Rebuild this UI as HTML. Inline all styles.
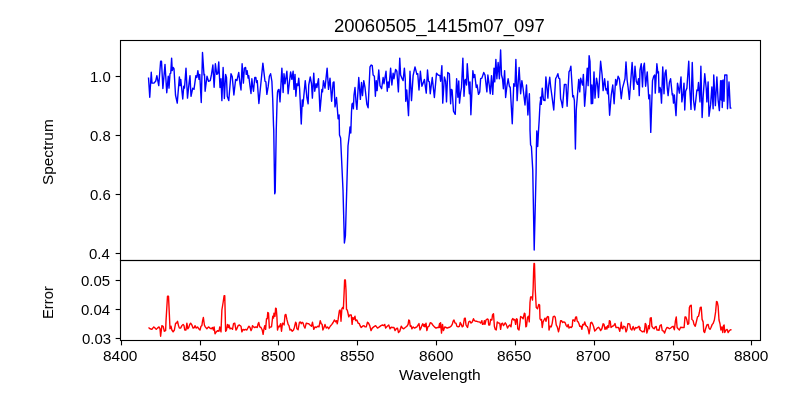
<!DOCTYPE html>
<html><head><meta charset="utf-8"><title>20060505_1415m07_097</title>
<style>
html,body{margin:0;padding:0;background:#fff;}
body{width:800px;height:400px;overflow:hidden;position:relative;font-family:"Liberation Sans",sans-serif;color:#000;}
svg{position:absolute;left:0;top:0;}
.t{position:absolute;white-space:nowrap;line-height:1;transform-origin:0 0;will-change:transform;}
</style></head><body>
<svg width="800" height="400" viewBox="0 0 800 400">
<rect width="800" height="400" fill="#fff"/>
<g fill="none" stroke-linejoin="round" stroke-linecap="butt">
<path d="M148.50 77.50 L149.75 97.25 L151.25 72.25 L152.00 83.12 L154.00 83.12 L155.75 81.00 L156.88 75.62 L158.75 85.62 L160.62 61.25 L161.50 61.25 L162.88 88.50 L165.00 64.38 L166.75 92.75 L168.25 76.25 L169.00 88.12 L170.00 73.75 L170.75 73.12 L171.62 58.12 L172.25 70.62 L173.12 67.50 L174.00 68.75 L175.50 95.00 L177.25 103.12 L179.38 76.88 L180.00 85.62 L180.75 79.38 L182.75 99.00 L183.75 86.25 L184.50 88.12 L186.00 68.12 L187.50 98.12 L189.00 83.75 L190.00 75.62 L191.00 96.25 L192.75 88.12 L194.00 89.38 L195.88 75.62 L196.88 77.50 L197.88 70.62 L199.00 79.38 L199.75 74.38 L201.25 102.50 L202.50 52.50 L204.00 75.00 L204.50 74.38 L205.12 91.25 L207.00 76.25 L208.50 81.25 L210.25 80.62 L211.50 74.38 L212.88 65.00 L214.12 87.25 L215.38 63.75 L216.75 74.38 L217.75 73.75 L218.75 61.88 L220.00 87.50 L221.00 78.75 L221.88 100.62 L223.12 67.50 L224.38 98.50 L225.62 74.38 L226.50 77.50 L227.25 96.25 L228.75 100.62 L231.00 73.75 L232.25 76.88 L233.88 95.00 L235.62 79.38 L236.88 80.62 L238.75 72.50 L240.00 83.75 L241.00 90.00 L242.12 63.75 L243.38 83.12 L244.38 68.12 L245.62 67.50 L246.25 74.38 L247.12 70.62 L248.12 78.12 L248.75 75.62 L250.00 86.25 L251.00 93.50 L251.88 78.75 L252.50 85.00 L253.50 91.25 L254.75 77.50 L255.88 77.50 L256.50 82.50 L257.25 80.62 L258.88 103.50 L262.88 63.12 L265.00 81.25 L265.88 81.88 L266.88 94.38 L268.12 86.88 L269.38 76.25 L270.62 73.75 L271.88 81.25 L272.75 100.00 L273.50 125.00 L273.75 130.00 L274.70 193.75 L275.20 192.00 L276.25 130.00 L277.12 100.00 L277.50 92.50 L278.12 90.00 L279.00 89.38 L280.00 101.88 L281.88 68.12 L283.12 92.50 L284.00 73.75 L285.00 83.75 L286.00 77.50 L286.88 71.25 L288.12 93.75 L289.38 82.50 L290.62 71.88 L291.88 79.38 L293.12 71.25 L294.00 89.38 L295.00 74.38 L295.88 96.25 L296.88 83.75 L297.88 85.62 L298.75 78.12 L299.62 88.75 L301.25 124.00 L302.25 100.00 L302.88 106.25 L305.25 80.62 L306.88 97.50 L308.12 103.75 L308.75 85.00 L310.25 76.88 L311.50 83.75 L312.38 98.12 L313.75 73.12 L314.75 91.25 L316.00 83.75 L316.88 87.50 L318.50 78.75 L320.00 111.25 L321.88 89.38 L322.50 91.88 L323.50 80.62 L325.00 88.12 L327.12 68.12 L328.50 89.38 L330.00 78.12 L331.62 101.25 L333.12 82.50 L334.00 81.88 L335.00 106.88 L336.50 97.50 L338.12 118.75 L339.12 115.00 L339.50 135.00 L340.60 138.00 L343.00 190.00 L344.40 243.00 L345.40 236.00 L347.00 180.00 L348.00 146.00 L349.40 134.00 L350.00 127.00 L350.80 133.00 L351.50 112.00 L352.00 104.00 L353.00 103.00 L353.40 108.75 L354.00 95.00 L355.00 87.50 L356.00 102.00 L356.90 109.40 L358.75 77.50 L360.38 99.38 L361.50 82.50 L362.50 95.62 L363.75 80.62 L365.00 87.50 L366.88 104.38 L368.12 107.75 L370.00 66.88 L371.25 65.00 L372.25 65.62 L373.12 75.00 L374.38 76.25 L375.38 96.25 L376.25 80.62 L377.12 90.62 L378.75 70.00 L380.00 85.62 L381.62 88.75 L383.12 77.50 L384.00 83.75 L386.00 71.25 L387.25 91.25 L388.12 81.88 L389.00 87.50 L390.62 68.12 L391.88 85.00 L393.12 73.12 L394.00 78.75 L395.62 69.38 L396.88 71.25 L398.38 91.88 L399.75 58.12 L400.62 75.00 L402.12 78.75 L403.12 80.62 L404.38 68.12 L405.25 78.75 L405.75 101.25 L406.75 90.00 L408.50 115.62 L410.00 71.25 L411.50 100.62 L413.12 75.62 L415.00 66.88 L416.88 74.38 L417.75 73.75 L419.00 90.00 L420.38 71.25 L421.88 86.25 L423.12 83.12 L424.38 79.38 L426.25 93.12 L427.50 70.00 L428.50 81.25 L429.38 81.88 L430.25 93.75 L432.25 77.50 L434.38 97.50 L436.50 73.12 L438.12 75.00 L440.00 75.62 L440.62 81.25 L441.88 65.62 L442.75 103.12 L444.38 76.88 L445.62 81.25 L446.50 101.88 L447.75 72.50 L449.38 73.75 L450.62 103.75 L451.25 89.38 L452.12 90.00 L453.50 111.25 L455.25 114.38 L456.62 78.75 L457.88 97.25 L458.75 81.00 L459.50 103.12 L460.62 92.50 L461.50 87.50 L462.88 58.12 L464.00 96.25 L465.00 80.00 L465.75 79.38 L466.50 85.00 L467.25 63.75 L468.50 81.25 L469.38 93.75 L470.00 81.88 L470.88 114.75 L472.88 70.62 L473.75 77.50 L474.75 74.38 L476.25 87.50 L477.12 85.00 L478.50 94.38 L479.75 91.88 L480.62 78.75 L481.88 78.12 L483.75 72.50 L485.00 75.00 L486.88 91.88 L487.88 75.00 L489.38 86.25 L490.25 93.75 L491.50 75.62 L492.75 94.38 L494.00 68.12 L494.75 81.88 L495.88 59.38 L496.88 78.75 L498.12 62.50 L499.38 78.75 L500.62 50.00 L501.50 75.00 L502.50 78.75 L503.38 88.75 L504.62 70.62 L505.62 97.50 L506.88 86.25 L508.12 78.75 L509.38 86.25 L510.25 87.50 L512.25 123.75 L513.75 83.75 L515.00 86.25 L515.88 59.38 L517.12 100.62 L519.12 67.50 L520.62 93.75 L521.88 80.62 L523.12 88.75 L525.00 105.00 L526.50 85.00 L527.88 115.00 L529.38 93.75 L530.00 120.00 L530.00 130.00 L530.60 145.00 L531.40 146.50 L532.75 170.00 L534.20 250.00 L536.10 172.00 L536.40 147.00 L536.80 131.00 L537.70 146.50 L538.50 131.00 L539.20 120.00 L540.00 104.00 L541.00 97.00 L540.38 97.50 L541.25 104.38 L542.25 88.12 L543.50 100.00 L545.00 100.62 L545.88 76.88 L546.88 86.88 L547.88 98.12 L548.75 85.00 L549.75 77.25 L550.62 86.25 L551.88 95.62 L553.75 110.00 L555.62 78.75 L556.88 76.25 L557.88 73.75 L558.75 78.12 L559.75 78.75 L560.62 98.75 L561.50 101.88 L562.50 107.50 L564.38 84.38 L566.00 84.38 L567.12 106.25 L569.00 71.88 L570.00 70.00 L570.88 66.25 L572.75 96.88 L573.50 95.62 L574.38 100.62 L575.40 149.00 L576.25 110.00 L578.75 79.38 L579.75 91.88 L580.62 78.12 L581.62 81.88 L582.50 85.00 L583.38 74.38 L584.62 106.25 L585.62 93.75 L587.25 68.12 L588.12 85.62 L589.12 55.62 L590.00 61.25 L590.62 86.25 L591.25 103.75 L591.88 85.00 L592.62 103.50 L593.38 87.50 L594.00 71.88 L595.00 98.12 L596.50 78.12 L597.50 83.75 L598.50 97.50 L599.38 81.88 L600.62 61.25 L602.12 75.00 L603.12 90.62 L604.62 78.75 L605.88 90.00 L606.88 88.75 L607.50 93.75 L607.88 81.25 L609.62 115.25 L611.25 95.00 L612.75 85.00 L614.12 103.75 L615.62 79.38 L616.50 85.00 L618.12 76.25 L619.38 78.75 L621.25 98.75 L622.50 88.12 L623.50 84.38 L625.00 78.75 L626.00 61.88 L627.12 80.00 L628.12 87.50 L629.38 99.38 L632.12 62.50 L633.75 89.38 L635.00 66.25 L636.25 81.25 L637.50 84.38 L638.50 78.75 L639.25 95.62 L640.00 70.00 L641.25 63.75 L642.50 86.88 L643.38 67.50 L644.38 63.12 L645.62 86.25 L647.25 71.88 L648.75 98.75 L649.75 95.00 L650.75 132.38 L652.50 80.62 L653.75 76.25 L654.75 75.00 L655.25 93.12 L656.88 63.75 L657.88 73.12 L658.50 71.88 L659.00 92.50 L660.00 87.50 L660.62 89.38 L661.50 103.12 L662.75 66.88 L664.00 93.75 L665.00 73.12 L666.00 70.00 L667.25 88.12 L668.12 95.62 L669.38 82.50 L670.62 78.75 L672.25 95.00 L672.75 93.75 L673.50 103.12 L674.38 95.00 L676.00 115.62 L677.50 83.12 L679.38 93.12 L681.00 76.88 L681.88 101.88 L683.12 93.75 L684.00 83.12 L684.75 110.00 L685.62 91.25 L686.88 88.12 L688.75 61.25 L689.75 88.75 L691.00 109.38 L692.25 62.50 L693.50 100.00 L694.75 110.00 L696.88 90.00 L697.75 90.62 L698.50 82.50 L700.00 101.88 L700.88 66.25 L702.12 117.50 L703.12 97.50 L704.75 73.75 L706.25 88.75 L706.88 101.88 L708.12 81.88 L709.00 116.25 L710.62 104.38 L711.88 86.88 L713.12 108.75 L713.75 75.00 L715.38 105.62 L716.88 76.88 L718.12 100.00 L719.38 110.62 L720.62 80.62 L721.25 100.00 L721.88 80.62 L722.25 107.50 L723.12 80.00 L724.00 101.25 L724.75 75.00 L726.88 75.00 L727.50 108.75 L729.00 81.88 L730.25 108.12 L731.50 108.12" stroke="#0000ff" stroke-width="1.4"/>
<path d="M148.50 327.50 L150.00 328.75 L151.88 329.38 L153.75 326.88 L155.00 328.12 L156.25 329.38 L157.50 328.12 L159.00 326.88 L160.00 328.75 L160.62 336.25 L161.88 325.62 L163.12 326.25 L164.38 331.25 L165.62 330.62 L166.00 321.25 L167.50 296.25 L168.50 296.25 L169.38 315.00 L170.00 328.75 L171.00 326.25 L171.88 330.00 L173.12 331.88 L174.38 330.00 L175.62 323.12 L176.50 323.12 L177.50 321.25 L178.50 325.62 L179.38 328.12 L180.62 328.12 L181.88 325.62 L183.12 324.38 L184.00 325.62 L184.75 330.00 L186.00 330.00 L186.88 323.12 L187.75 328.75 L188.75 327.50 L189.75 324.38 L190.62 323.12 L191.88 325.00 L193.12 328.12 L194.38 327.50 L195.00 325.62 L196.25 328.12 L197.50 326.88 L198.75 328.75 L200.00 330.00 L201.00 326.25 L201.88 325.62 L202.50 321.25 L203.38 317.50 L204.38 325.00 L205.25 326.88 L206.88 328.75 L208.50 326.88 L210.00 328.12 L211.25 328.75 L212.50 327.50 L213.38 330.00 L214.12 326.88 L215.00 333.75 L216.25 331.88 L217.75 330.62 L219.00 331.25 L219.75 326.88 L221.00 331.88 L221.88 310.00 L223.12 302.50 L224.12 295.62 L224.75 295.62 L225.62 331.25 L226.50 330.00 L227.50 324.38 L228.38 327.50 L229.00 325.00 L230.00 328.75 L231.25 328.12 L232.50 329.38 L233.50 323.75 L234.75 323.12 L236.00 330.00 L236.88 328.75 L238.12 325.62 L239.38 325.00 L240.00 325.62 L241.00 326.25 L241.88 331.88 L243.12 329.38 L244.38 330.00 L245.62 329.38 L246.88 330.00 L248.12 327.50 L249.00 326.25 L250.00 327.50 L251.00 330.62 L251.88 328.75 L252.50 325.62 L253.50 326.88 L254.75 327.50 L256.00 326.88 L257.25 327.50 L258.12 323.75 L258.75 322.50 L259.75 326.88 L261.00 327.50 L262.25 330.00 L263.12 334.38 L264.00 328.75 L264.75 325.62 L265.62 329.38 L266.50 318.75 L267.25 318.75 L267.75 312.50 L268.50 313.12 L269.38 328.12 L270.62 326.88 L271.50 326.88 L272.75 316.25 L273.50 318.12 L274.00 313.12 L275.00 316.25 L275.62 308.12 L276.25 308.50 L276.88 316.25 L277.50 330.00 L278.50 326.25 L279.38 326.88 L280.62 323.75 L281.50 331.25 L282.50 323.12 L283.50 323.75 L284.12 325.00 L285.00 315.00 L285.88 314.38 L286.88 319.38 L288.12 324.38 L289.00 325.62 L290.00 330.00 L291.00 329.38 L292.25 331.25 L293.50 330.00 L294.38 327.50 L295.62 322.25 L296.25 323.12 L296.88 328.75 L298.12 329.75 L299.38 322.50 L300.25 321.88 L301.25 323.75 L302.12 322.25 L303.12 323.12 L304.00 326.25 L305.00 328.12 L306.25 323.12 L307.50 323.50 L308.75 323.75 L310.00 325.00 L311.50 326.25 L312.50 322.25 L313.75 329.38 L315.00 326.88 L316.25 327.50 L317.75 326.25 L319.00 326.88 L320.25 320.62 L321.25 323.75 L322.12 324.38 L322.88 330.00 L324.00 327.50 L325.00 324.38 L326.25 328.12 L327.50 326.88 L328.75 328.75 L330.25 326.25 L331.88 324.38 L333.12 322.50 L334.38 320.00 L335.62 321.88 L336.50 320.62 L337.25 323.75 L338.12 319.38 L339.38 310.62 L340.00 310.00 L340.38 311.25 L341.00 321.25 L341.88 308.75 L342.75 307.50 L343.38 308.75 L344.12 292.50 L344.62 280.00 L345.38 280.00 L346.00 290.00 L346.50 309.38 L347.25 310.00 L348.12 313.75 L348.75 316.88 L349.75 315.00 L351.25 315.00 L352.12 324.38 L352.88 317.50 L353.75 319.38 L355.00 316.25 L355.62 320.62 L356.88 320.00 L358.12 323.12 L359.38 323.75 L360.00 325.62 L361.25 327.50 L362.50 326.25 L364.00 325.62 L365.00 326.88 L366.25 326.88 L367.50 322.25 L368.50 323.12 L369.75 325.62 L371.00 330.62 L372.25 328.12 L373.75 326.88 L375.62 325.62 L377.50 328.12 L379.38 326.88 L381.00 325.62 L382.50 325.00 L383.75 325.62 L384.75 324.38 L385.62 328.12 L387.25 326.25 L388.75 325.00 L390.00 328.75 L391.25 327.25 L392.50 327.50 L394.00 327.50 L395.00 330.62 L396.25 328.75 L397.50 328.12 L398.50 332.50 L399.75 331.25 L401.25 326.25 L402.50 328.12 L403.75 328.75 L405.25 327.50 L406.88 326.25 L408.12 324.38 L408.75 320.00 L409.50 320.62 L410.25 326.25 L411.00 325.62 L411.88 328.75 L413.12 326.88 L414.38 328.12 L415.62 327.50 L416.88 326.88 L418.12 325.00 L419.00 323.50 L420.00 330.00 L421.00 328.12 L421.88 325.62 L422.75 323.75 L423.75 326.25 L424.38 324.38 L425.00 326.88 L426.00 323.12 L426.88 330.62 L427.88 326.88 L429.00 326.25 L430.25 322.75 L431.50 323.12 L432.75 325.00 L434.38 326.88 L436.00 328.12 L437.50 327.50 L438.75 327.50 L439.62 323.50 L440.00 327.50 L440.62 322.75 L441.50 333.12 L442.50 324.38 L443.50 330.62 L444.75 326.88 L446.00 327.50 L447.25 328.12 L448.50 327.50 L449.75 327.25 L451.00 326.25 L452.25 324.38 L453.12 321.25 L454.00 320.00 L455.00 323.12 L456.00 323.12 L456.88 326.25 L458.12 326.88 L459.38 326.25 L460.25 322.50 L461.25 324.38 L462.25 326.88 L463.12 326.25 L464.38 318.50 L465.25 318.12 L466.00 325.00 L467.50 327.50 L468.75 321.88 L470.00 321.25 L471.00 323.12 L472.25 321.88 L473.50 318.75 L474.38 320.62 L475.62 321.25 L476.88 321.25 L478.12 321.88 L479.38 321.88 L480.62 323.12 L481.88 320.62 L482.50 324.38 L483.75 323.75 L484.38 320.62 L485.00 324.38 L486.00 320.00 L487.25 319.00 L488.12 319.38 L488.75 325.00 L489.75 325.00 L490.62 319.38 L491.88 320.00 L492.50 315.00 L493.50 313.75 L494.38 326.25 L495.25 329.38 L496.25 330.00 L497.25 321.88 L498.50 323.12 L499.75 323.12 L500.62 329.38 L501.50 323.75 L502.50 323.12 L503.50 325.62 L504.38 324.38 L505.25 322.75 L506.25 324.38 L507.50 328.12 L508.50 326.25 L509.75 325.00 L511.00 326.88 L511.88 320.00 L512.75 318.50 L513.75 320.00 L514.75 319.38 L515.62 324.38 L516.50 318.75 L517.25 319.38 L517.75 328.75 L519.00 330.00 L520.00 322.50 L520.62 316.50 L521.88 317.25 L523.12 318.75 L524.38 313.12 L525.00 313.75 L525.88 326.88 L526.50 326.25 L527.50 317.50 L528.50 316.25 L529.25 321.88 L530.00 302.50 L530.62 296.88 L531.88 296.88 L532.50 300.00 L533.12 288.75 L533.62 271.25 L534.00 263.50 L534.50 263.75 L534.88 277.50 L535.25 290.00 L536.25 307.50 L537.50 308.75 L538.75 304.38 L539.62 305.00 L540.00 318.75 L540.62 320.00 L541.50 319.38 L542.25 327.50 L543.12 321.88 L544.00 320.00 L545.00 318.12 L546.00 321.25 L546.88 317.50 L547.75 316.50 L548.50 316.88 L549.00 330.00 L550.00 326.25 L551.25 326.88 L552.25 323.12 L553.12 316.88 L554.38 316.25 L555.25 317.25 L556.25 325.00 L557.25 326.88 L558.50 331.88 L559.75 326.25 L560.62 320.62 L561.50 320.62 L562.50 322.50 L563.75 321.88 L565.00 322.50 L566.25 325.62 L567.25 326.88 L568.12 324.38 L569.00 328.12 L570.00 326.88 L571.25 327.50 L572.25 326.25 L572.75 320.00 L573.75 320.00 L574.75 321.25 L575.62 317.25 L576.50 316.88 L577.25 321.25 L578.12 321.88 L579.00 323.75 L579.75 326.25 L581.00 326.25 L581.88 329.38 L582.75 324.38 L583.75 325.00 L584.75 321.88 L585.62 325.00 L586.50 326.25 L587.50 326.88 L588.50 330.62 L589.12 333.75 L590.00 328.75 L590.62 322.75 L591.50 322.25 L592.50 323.75 L593.50 326.25 L594.75 331.00 L596.00 329.75 L597.25 328.12 L598.50 327.25 L599.75 328.75 L600.62 330.62 L601.88 328.75 L603.12 323.75 L604.00 324.38 L605.00 329.38 L606.25 326.88 L606.88 329.00 L607.75 325.62 L608.75 327.50 L609.38 320.62 L610.25 321.25 L611.00 327.50 L612.50 326.25 L613.75 325.62 L615.00 323.50 L616.00 327.50 L617.25 327.50 L618.50 327.50 L619.75 331.25 L620.62 326.88 L621.25 322.25 L621.88 328.12 L622.75 328.75 L623.50 326.25 L625.00 326.88 L626.00 331.88 L626.88 330.00 L627.88 323.75 L629.00 323.75 L629.75 324.38 L630.62 328.75 L631.88 330.00 L633.12 326.50 L634.38 330.00 L635.62 327.50 L636.88 328.12 L638.12 326.88 L639.00 326.25 L639.62 329.38 L640.00 327.50 L640.00 330.00 L641.00 330.62 L642.25 331.88 L643.50 331.25 L644.38 331.88 L645.25 323.50 L646.00 324.38 L646.88 333.12 L647.75 330.00 L648.50 325.62 L649.38 328.75 L650.25 318.12 L651.25 317.75 L651.88 326.25 L653.12 328.12 L654.38 328.75 L655.25 326.88 L656.25 326.50 L656.88 330.00 L658.12 330.00 L659.00 330.25 L660.00 325.62 L661.25 324.75 L662.25 330.62 L663.50 331.00 L664.62 333.12 L665.62 330.00 L666.88 327.50 L668.12 327.75 L669.38 328.75 L670.62 328.12 L671.88 326.88 L673.12 326.25 L674.38 329.75 L675.38 321.25 L676.25 316.88 L677.12 327.50 L678.12 328.75 L679.38 330.00 L680.62 327.25 L681.88 327.50 L683.12 327.50 L684.12 327.50 L685.00 316.88 L685.88 316.88 L686.88 320.00 L687.75 324.38 L688.75 323.75 L689.38 307.50 L690.25 305.62 L691.25 305.25 L691.88 319.38 L693.12 320.62 L694.00 324.38 L695.25 326.25 L696.50 321.25 L697.50 316.88 L698.50 316.25 L699.38 312.50 L700.25 307.50 L701.25 307.25 L702.12 319.38 L703.12 321.88 L703.75 331.25 L704.62 332.50 L705.62 328.75 L706.88 325.00 L708.12 324.38 L709.00 328.12 L710.00 329.38 L711.00 327.50 L712.25 324.38 L713.12 323.50 L714.38 320.00 L715.62 311.88 L716.50 301.50 L717.25 301.88 L718.12 306.25 L719.00 320.00 L720.00 323.75 L720.88 330.00 L721.88 326.88 L722.75 332.50 L723.50 325.62 L724.12 325.00 L724.75 332.50 L726.00 330.00 L727.12 329.38 L728.12 332.50 L729.38 330.62 L730.62 329.75 L731.50 329.75" stroke="#ff0000" stroke-width="1.4"/>
</g>
<g fill="#000">
<rect x="120.945" y="340.5" width="1.11" height="4.86"/><rect x="199.945" y="340.5" width="1.11" height="4.86"/><rect x="277.945" y="340.5" width="1.11" height="4.86"/><rect x="356.945" y="340.5" width="1.11" height="4.86"/><rect x="435.945" y="340.5" width="1.11" height="4.86"/><rect x="514.945" y="340.5" width="1.11" height="4.86"/><rect x="593.945" y="340.5" width="1.11" height="4.86"/><rect x="672.945" y="340.5" width="1.11" height="4.86"/><rect x="750.945" y="340.5" width="1.11" height="4.86"/>
<rect x="115.64" y="75.945" width="4.86" height="1.11"/><rect x="115.64" y="134.945" width="4.86" height="1.11"/><rect x="115.64" y="193.945" width="4.86" height="1.11"/><rect x="115.64" y="252.945" width="4.86" height="1.11"/><rect x="115.64" y="279.945" width="4.86" height="1.11"/><rect x="115.64" y="308.945" width="4.86" height="1.11"/><rect x="115.64" y="337.945" width="4.86" height="1.11"/>
</g>
<g fill="none" stroke="#000" stroke-width="1.11" stroke-linejoin="miter">
<rect x="120.5" y="40.5" width="640" height="220"/>
<rect x="120.5" y="260.5" width="640" height="80"/>
</g></svg>
<div class="t" style="left:333.50px;top:17.00px;font-size:18.50px;transform:scaleX(0.9991)">20060505_1415m07_097</div>
<div class="t" style="left:399.10px;top:368.00px;font-size:14.80px;transform:scaleX(1.0527)">Wavelength</div>
<div class="t" style="left:41.00px;top:185.10px;font-size:14.90px;transform:rotate(-90deg) scaleX(1.0308)">Spectrum</div>
<div class="t" style="left:41.00px;top:318.70px;font-size:14.80px;transform:rotate(-90deg) scaleX(0.9968)">Error</div>
<div class="t" style="left:102.80px;top:349.00px;font-size:14.40px;transform:scaleX(1.0750)">8400</div>
<div class="t" style="left:181.62px;top:349.00px;font-size:14.40px;transform:scaleX(1.0750)">8450</div>
<div class="t" style="left:261.44px;top:349.00px;font-size:14.40px;transform:scaleX(1.0750)">8500</div>
<div class="t" style="left:340.26px;top:349.00px;font-size:14.40px;transform:scaleX(1.0750)">8550</div>
<div class="t" style="left:419.08px;top:349.00px;font-size:14.40px;transform:scaleX(1.0750)">8600</div>
<div class="t" style="left:496.90px;top:349.00px;font-size:14.40px;transform:scaleX(1.0750)">8650</div>
<div class="t" style="left:575.72px;top:349.00px;font-size:14.40px;transform:scaleX(1.0750)">8700</div>
<div class="t" style="left:655.04px;top:349.00px;font-size:14.40px;transform:scaleX(1.0750)">8750</div>
<div class="t" style="left:734.36px;top:349.00px;font-size:14.40px;transform:scaleX(1.0750)">8800</div>
<div class="t" style="left:89.60px;top:69.50px;font-size:14.40px;transform:scaleX(1.0400)">1.0</div>
<div class="t" style="left:89.60px;top:128.50px;font-size:14.40px;transform:scaleX(1.0400)">0.8</div>
<div class="t" style="left:89.60px;top:187.50px;font-size:14.40px;transform:scaleX(1.0400)">0.6</div>
<div class="t" style="left:89.20px;top:246.50px;font-size:14.40px;transform:scaleX(1.0400)">0.4</div>
<div class="t" style="left:81.30px;top:273.50px;font-size:14.40px;transform:scaleX(1.0400)">0.05</div>
<div class="t" style="left:81.30px;top:302.50px;font-size:14.40px;transform:scaleX(1.0400)">0.04</div>
<div class="t" style="left:81.95px;top:331.50px;font-size:14.40px;transform:scaleX(1.0400)">0.03</div>
</body></html>
